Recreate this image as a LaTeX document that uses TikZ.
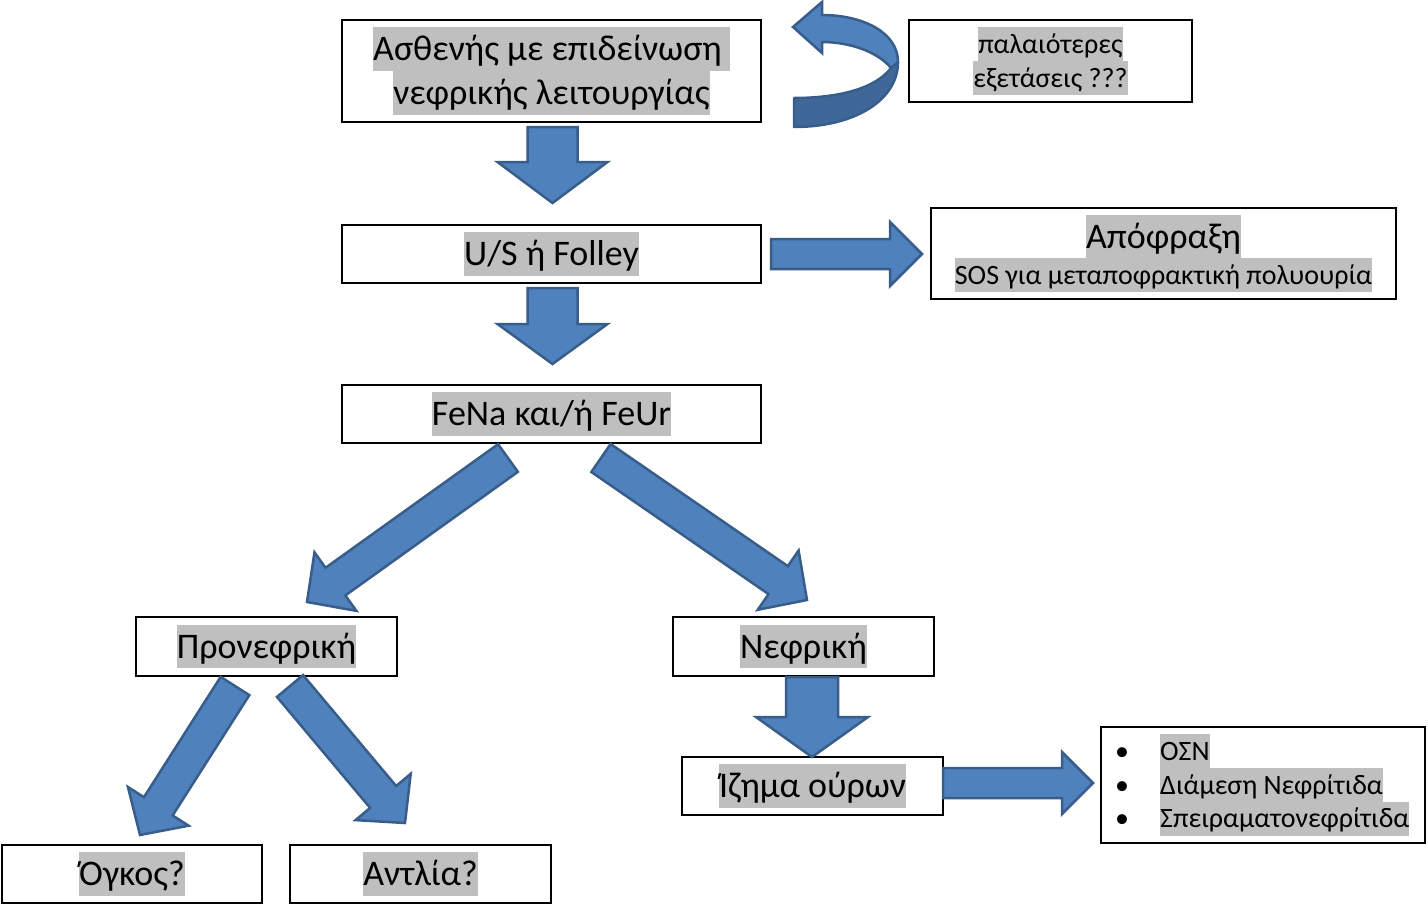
\documentclass[tikz,border=0pt]{standalone}
\usepackage{fontspec}
\setmainfont{Carlito}
\definecolor{hlgray}{RGB}{191,191,191}
\definecolor{arrfill}{RGB}{79,129,189}
\definecolor{arrline}{RGB}{56,93,138}
\definecolor{arrdark}{RGB}{63,103,151}
\newcommand{\hlt}[1]{{\setlength{\fboxsep}{0pt}\colorbox{hlgray}{\rule[-0.28em]{0pt}{1.21em}#1}}}
\newcommand{\bigfont}{\fontsize{36pt}{0pt}\selectfont\lineskiplimit=10000pt\lineskip=0pt}
\newcommand{\smallfont}{\fontsize{28pt}{0pt}\selectfont\lineskiplimit=10000pt\lineskip=0pt}
\newcommand{\barrow}[5]{%
 \pgfpointanchor{#1}{center}\pgfgetlastxy{\baax}{\baay}%
 \pgfpointanchor{#2}{center}\pgfgetlastxy{\babx}{\baby}%
 \pgfmathsetmacro\baAx{\baax}\pgfmathsetmacro\baAy{\baay}%
 \pgfmathsetmacro\baBx{\babx}\pgfmathsetmacro\baBy{\baby}%
 \pgfmathsetmacro\badx{(\baBx)-(\baAx)}%
 \pgfmathsetmacro\bady{(\baBy)-(\baAy)}%
 \pgfmathsetmacro\balen{veclen(\badx,\bady)}%
 \pgfmathsetmacro\baux{(\badx)/\balen}%
 \pgfmathsetmacro\bauy{(\bady)/\balen}%
 \pgfmathsetmacro\banx{-1*(\bauy)}%
 \pgfmathsetmacro\bany{\baux}%
 \pgfmathsetmacro\baCx{(\baBx)-#5*(\baux)}%
 \pgfmathsetmacro\baCy{(\baBy)-#5*(\bauy)}%
 \draw[blockarrow] ({(\baAx)+#3*(\banx)},{(\baAy)+#3*(\bany)})
   -- ({(\baCx)+#3*(\banx)},{(\baCy)+#3*(\bany)})
   -- ({(\baCx)+#4*(\banx)},{(\baCy)+#4*(\bany)})
   -- (\baBx,\baBy)
   -- ({(\baCx)-#4*(\banx)},{(\baCy)-#4*(\bany)})
   -- ({(\baCx)-#3*(\banx)},{(\baCy)-#3*(\bany)})
   -- ({(\baAx)-#3*(\banx)},{(\baAy)-#3*(\bany)}) -- cycle;%
}
\tikzset{
  box/.style={draw=black, line width=2pt, fill=white, inner sep=0pt, align=center, font=\bigfont},
  blockarrow/.style={fill=arrfill, draw=arrline, line width=2.5pt, line join=miter},
}
\begin{document}
\begin{tikzpicture}[x=1pt,y=1pt]
\useasboundingbox (0,0) rectangle (1428,-918);
% boxes
\node[box, minimum width=419pt, minimum height=102pt] (patient) at (551.5,-71)
  {\hlt{Ασθενής με επιδείνωση\ }\\\hlt{νεφρικής λειτουργίας}};
\node[box, minimum width=283pt, minimum height=82pt, font=\smallfont] (older) at (1050.5,-61)
  {\hlt{παλαιότερες}\\\hlt{εξετάσεις ???}};
\node[box, minimum width=419pt, minimum height=58pt] (us) at (551.5,-254) {\hlt{U/S ή Folley}};
\node[box, minimum width=465pt, minimum height=91pt] (obst) at (1163.5,-253.5)
  {\hlt{Απόφραξη}\\{\smallfont\hlt{SOS για μεταποφρακτική πολυουρία}}};
\node[box, minimum width=419pt, minimum height=58pt] (fena) at (551.5,-414) {\hlt{FeNa και/ή FeUr}};
\node[box, minimum width=261pt, minimum height=59pt] (prerenal) at (266.5,-646.5) {\hlt{Προνεφρική}};
\node[box, minimum width=261pt, minimum height=59pt] (renal) at (803.5,-646.5) {\hlt{Νεφρική}};
\node[box, minimum width=261pt, minimum height=58pt] (sediment) at (812.5,-786) {\hlt{Ίζημα ούρων}};
\node[box, minimum width=260pt, minimum height=58pt] (tumor) at (132,-874) {\hlt{Όγκος?}};
\node[box, minimum width=261pt, minimum height=58pt] (pump) at (420.5,-874) {\hlt{Αντλία?}};
\node[box, minimum width=324pt, minimum height=116pt] (list) at (1263,-785) {};
\node[font=\smallfont, align=left, inner sep=0pt, anchor=west] (listtext) at (1115,-785)
  {\makebox[45pt][l]{•}\hlt{ΟΣΝ}\\\makebox[45pt][l]{•}\hlt{Διάμεση Νεφρίτιδα}\\\makebox[45pt][l]{•}\hlt{Σπειραματονεφρίτιδα}};
% arrow end points
\coordinate (t1) at (552.5,-127); \coordinate (h1) at (552.5,-203);
\coordinate (t2) at (552.5,-288); \coordinate (h2) at (552.5,-364);
\coordinate (t3) at (771,-254);   \coordinate (h3) at (922,-254);
\coordinate (t4) at (508,-458);   \coordinate (h4) at (307,-602);
\coordinate (t5) at (601,-458);   \coordinate (h5) at (807,-600);
\coordinate (t6) at (812,-677);   \coordinate (h6) at (812,-757);
\coordinate (t7) at (943,-783);   \coordinate (h7) at (1093,-783);
\coordinate (t8) at (235,-686);   \coordinate (h8) at (140,-835);
\coordinate (t9) at (290,-686);   \coordinate (h9) at (405,-823);
\barrow{t1}{h1}{25}{55}{41}
\barrow{t2}{h2}{25}{55}{40}
\barrow{t3}{h3}{15}{32}{32}
\barrow{t4}{h4}{17}{36}{35}
\barrow{t5}{h5}{17}{36}{35}
\barrow{t6}{h6}{26}{56}{40}
\barrow{t7}{h7}{15}{31}{31}
\barrow{t8}{h8}{17}{36}{34}
\barrow{t9}{h9}{17}{36}{34}
% curved u-turn arrow
\draw[fill=arrdark, draw=arrline, line width=2.5pt, line join=round]
  (794,-98) .. controls (840,-98) and (876,-88) .. (891,-68) -- (898,-62)
  .. controls (898,-100) and (855,-127) .. (794,-127) -- cycle;
\draw[fill=arrfill, draw=arrline, line width=2.5pt, line join=miter]
  (822,-15) .. controls (862,-15) and (898,-32) .. (898,-62) -- (891,-68)
  .. controls (878,-52) and (850,-42) .. (822,-42) -- (822,-53) -- (793,-27) -- (822,-2) -- cycle;
\end{tikzpicture}
\end{document}
